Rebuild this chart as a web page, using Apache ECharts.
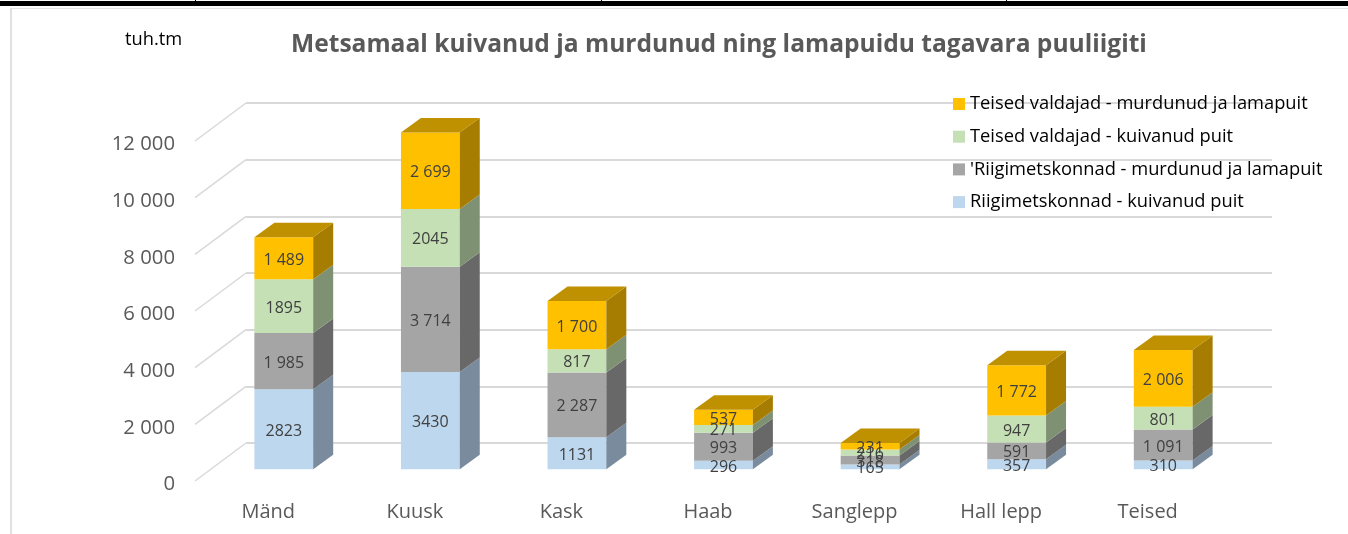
<!DOCTYPE html>
<html>
<head>
<meta charset="utf-8">
<style>
  html, body { margin: 0; padding: 0; background: #fff; }
  #chart { width: 1348px; height: 534px; }
</style>
<script src="https://cdn.jsdelivr.net/npm/echarts@6/dist/echarts.min.js"></script>
</head>
<body>
<div id="chart"></div>
<script>
const categories = ['Mänd', 'Kuusk', 'Kask', 'Haab', 'Sanglepp', 'Hall lepp', 'Teised']
const yTicks = [0, 2000, 4000, 6000, 8000, 10000, 12000]
const yTickLabels = ['0', '2 000', '4 000', '6 000', '8 000', '10 000', '12 000']

const seriesNames = [
  'Riigimetskonnad - kuivanud puit',
  "'Riigimetskonnad - murdunud ja lamapuit",
  'Teised valdajad - kuivanud puit',
  'Teised valdajad - murdunud ja lamapuit'
]
const riigiKuiv = [2823, 3430, 1131, 296, 165, 357, 310]
const riigiMurd = [1985, 3714, 2287, 993, 318, 591, 1091]
const teisedKuiv = [1895, 2045, 817, 271, 216, 947, 801]
const teisedMurd = [1489, 2699, 1700, 537, 231, 1772, 2006]
// the labels in the picture are not formatted the same way
const riigiKuivLabels = ['2823', '3430', '1131', '296', '165', '357', '310']
const riigiMurdLabels = ['1 985', '3 714', '2 287', '993', '318', '591', '1 091']
const teisedKuivLabels = ['1895', '2045', '817', '271', '216', '947', '801']
const teisedMurdLabels = ['1 489', '2 699', '1 700', '537', '231', '1 772', '2 006']

const frontColors = ['#BDD7EE', '#A5A5A5', '#C5E0B4', '#FFC000']
const sideColors = ['#7A8B9D', '#686868', '#7F9173', '#A67D00']
const topColor = '#BF9000'

const layers = [riigiKuiv, riigiMurd, teisedKuiv, teisedMurd]
const layerLabels = [riigiKuivLabels, riigiMurdLabels, teisedKuivLabels, teisedMurdLabels]

const fontName = '"Open Sans", sans-serif'
const wallDepth = [51, -38]
const barDepth = [20, -14.5]
const barShift = [(wallDepth[0] - barDepth[0]) / 2, (wallDepth[1] - barDepth[1]) / 2]
const barHalf = 29.4

function box(points, color, z2) {
  return { type: 'polygon', shape: { points }, style: { fill: color }, z2 }
}

function renderLayer(layer) {
  return function (params, api) {
    const i = api.value(0)
    const base = layers.slice(0, layer).reduce((s, l) => s + l[i], 0)
    const bottom = api.coord([i, base])
    const top = api.coord([i, base + api.value(1)])
    const x0 = bottom[0] + barShift[0] - barHalf
    const x1 = bottom[0] + barShift[0] + barHalf
    const y0 = bottom[1] + barShift[1]
    const y1 = top[1] + barShift[1]
    const dx = barDepth[0]
    const dy = barDepth[1]
    const children = [
      box([[x0, y0], [x1, y0], [x1, y1], [x0, y1]], frontColors[layer], 2),
      box([[x1, y0], [x1 + dx, y0 + dy], [x1 + dx, y1 + dy], [x1, y1]], sideColors[layer], 2)
    ]
    if (layer === layers.length - 1) {
      children.push(box([[x0, y1], [x1, y1], [x1 + dx, y1 + dy], [x0 + dx, y1 + dy]], topColor, 2))
    }
    children.push({
      type: 'text',
      z2: 100,
      style: {
        x: (x0 + x1) / 2,
        y: (y0 + y1) / 2 + 2,
        text: layerLabels[layer][i],
        fill: '#404040',
        font: '16px ' + fontName,
        align: 'center',
        verticalAlign: 'middle'
      }
    })
    return { type: 'group', children }
  }
}

const barSeries = layers.map((values, layer) => ({
  name: seriesNames[layer],
  type: 'custom',
  xAxisIndex: 1,
  yAxisIndex: 1,
  z: 5,
  clip: false,
  itemStyle: { color: frontColors[layer] },
  encode: { x: 0, y: 1 },
  data: values.map((v, i) => [i, v]),
  renderItem: renderLayer(layer)
}))

const chart = echarts.init(document.getElementById('chart'))
chart.setOption({
  animation: false,
  backgroundColor: '#fff',
  title: {
    text: 'Metsamaal kuivanud ja murdunud ning lamapuidu tagavara puuliigiti',
    left: 286,
    top: 27,
    textStyle: { color: '#595959', fontSize: 24.6, fontWeight: 'bold', fontFamily: fontName }
  },
  legend: {
    orient: 'vertical',
    left: 948,
    top: 88,
    itemWidth: 12,
    itemHeight: 12,
    itemGap: 10.7,
    icon: 'rect',
    selectedMode: false,
    textStyle: { color: '#000', fontSize: 18.3, fontFamily: fontName, height: 22, lineHeight: 22 },
    data: seriesNames.slice().reverse()
  },
  // grid 0 is the back wall, grid 1 the front plane holding the labels
  grid: [
    { left: 246, top: 103, width: 1026, height: 340 },
    { left: 195, top: 141, width: 1026, height: 340 }
  ],
  xAxis: [
    { type: 'category', gridIndex: 0, data: categories, show: false },
    {
      type: 'category',
      gridIndex: 1,
      data: categories,
      axisLine: { show: false },
      axisTick: { show: false },
      axisLabel: { color: '#595959', fontSize: 20, fontFamily: fontName, margin: 21 }
    }
  ],
  yAxis: [
    {
      type: 'value',
      gridIndex: 0,
      min: 0,
      max: 12000,
      interval: 2000,
      axisLine: { show: false },
      axisTick: { show: false },
      axisLabel: { show: false },
      splitLine: { lineStyle: { color: '#D9D9D9', width: 2 } }
    },
    {
      type: 'value',
      gridIndex: 1,
      min: 0,
      max: 12000,
      interval: 2000,
      axisLine: { show: false },
      axisTick: { show: false },
      splitLine: { show: false },
      axisLabel: {
        color: '#595959',
        fontSize: 20.3,
        fontFamily: fontName,
        margin: 20,
        // labels sit a little below their gridline start in the picture
        verticalAlign: 'top',
        lineHeight: 7,
        formatter: v => yTickLabels[yTicks.indexOf(v)]
      }
    }
  ],
  series: [
    {
      // diagonal part of the gridlines, front plane to back wall
      type: 'custom',
      xAxisIndex: 1,
      yAxisIndex: 1,
      z: 1,
      silent: true,
      clip: false,
      encode: { y: 1 },
      data: yTicks.map(v => [0, v]),
      renderItem(params, api) {
        const y = api.coord([0, api.value(1)])[1]
        const x = params.coordSys.x
        return {
          type: 'line',
          shape: { x1: x, y1: y, x2: x + wallDepth[0], y2: y + wallDepth[1] },
          style: { stroke: '#D9D9D9', lineWidth: 1.5 }
        }
      }
    },
    ...barSeries
  ],
  graphic: [
    // page rule and chart frame around the picture
    { type: 'rect', shape: { x: 0, y: 1, width: 1348, height: 5 }, style: { fill: '#000' } },
    { type: 'rect', shape: { x: 195, y: 0, width: 1, height: 2 }, style: { fill: '#000' } },
    { type: 'rect', shape: { x: 601, y: 0, width: 1, height: 2 }, style: { fill: '#000' } },
    { type: 'rect', shape: { x: 1006, y: 0, width: 1, height: 2 }, style: { fill: '#000' } },
    { type: 'rect', shape: { x: 10, y: 8, width: 1338, height: 1 }, style: { fill: '#E4E4E4' } },
    { type: 'rect', shape: { x: 10, y: 8, width: 2, height: 526 }, style: { fill: '#E0E0E0' } },
    {
      type: 'text',
      left: 125,
      top: 31,
      style: { text: 'tuh.tm', fill: '#000', font: '18.3px ' + fontName }
    }
  ]
})
</script>
</body>
</html>
